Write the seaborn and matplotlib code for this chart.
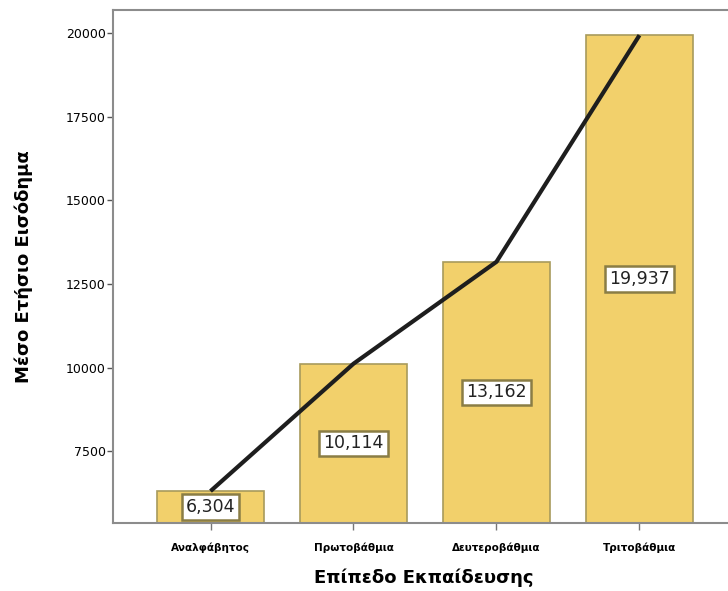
import matplotlib
matplotlib.use('Agg')
import matplotlib.pyplot as plt
import seaborn as sns
import pandas as pd

# Data
categories = ['Αναλφάβητος', 'Πρωτοβάθμια', 'Δευτεροβάθμια', 'Τριτοβάθμια']
means = [6304, 10114, 13162, 19937]
labels = ['6,304', '10,114', '13,162', '19,937']

df = pd.DataFrame({'level': categories, 'income': means})

sns.set_style('white')
plt.rcParams['font.family'] = ['DejaVu Sans']
plt.rcParams['text.color'] = 'black'
plt.rcParams['axes.labelcolor'] = 'black'
plt.rcParams['xtick.labelcolor'] = 'black'
plt.rcParams['ytick.labelcolor'] = 'black'

fig = plt.figure(figsize=(7.28, 5.91), dpi=100)
ax = fig.add_axes([0.155, 0.115, 0.855, 0.868])

sns.barplot(data=df, x='level', y='income', color='#F2D06B', saturation=1,
            edgecolor='#A89B5C', linewidth=1.2, width=0.75, ax=ax)

# line through the means
ax.plot(range(len(means)), means, color='#1e1e1e', linewidth=3, zorder=4,
        solid_capstyle='butt')

ymin, ymax = 5350, 20690
ax.set_ylim(ymin, ymax)
ax.set_xlim(-0.683, 3.67)

for i, (v, lab) in enumerate(zip(means, labels)):
    ax.text(i, (ymin + v) / 2, lab, ha='center', va='center', fontsize=12.5,
            color='#222222', zorder=5,
            bbox=dict(boxstyle='square,pad=0.22', facecolor='white',
                      edgecolor='#8a7d45', linewidth=1.8))

ax.set_yticks([7500, 10000, 12500, 15000, 17500, 20000])
ax.set_yticklabels(['7500', '10000', '12500', '15000', '17500', '20000'])
ax.tick_params(axis='y', left=True, length=4, width=1, color='#555555',
               labelsize=9, pad=1)
ax.tick_params(axis='x', bottom=True, length=5, width=1, color='#777777',
               labelsize=7.5, pad=9)
for t in ax.get_xticklabels():
    t.set_fontweight('bold')

for s in ax.spines.values():
    s.set_color('#8c8c8c')
    s.set_linewidth(1.5)

ax.set_xlabel('Επίπεδο Εκπαίδευσης', fontsize=13, fontweight='bold', labelpad=11)
ax.set_ylabel('Μέσο Ετήσιο Εισόδημα', fontsize=13, fontweight='bold', labelpad=24)

plt.savefig('out.png', dpi=100)
plt.close()
